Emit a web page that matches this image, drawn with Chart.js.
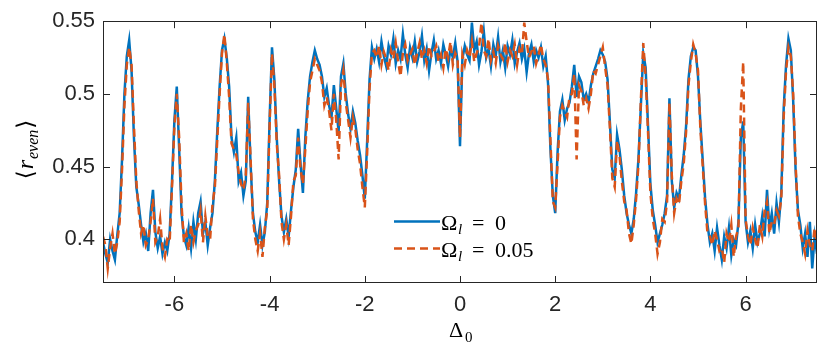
<!DOCTYPE html>
<html>
<head>
<meta charset="utf-8">
<script src="https://cdn.jsdelivr.net/npm/chart.js@4/dist/chart.umd.min.js"></script>
<style>
html,body{margin:0;padding:0;background:#fff;}
canvas{display:block;}
</style>
</head>
<body>
<canvas id="c" width="830" height="350"></canvas>
<script>
// Delta_0 grid: -7.5 .. 7.5, step 0.05 (301 points)
const deltaStart = -7.5;
const deltaStep = 0.05;

// <r_even> for Omega_l = 0 (blue, solid), 10 values per row = 0.5 in Delta_0
const rEvenOmega0 = [
  0.398,0.390,0.384,0.400,0.392,0.386,0.403,0.418,0.455,0.500,
  0.526,0.537,0.516,0.470,0.436,0.424,0.410,0.398,0.404,0.392,
  0.418,0.434,0.405,0.394,0.402,0.390,0.398,0.392,0.404,0.440,
  0.482,0.505,0.462,0.418,0.402,0.396,0.408,0.394,0.412,0.400,
  0.418,0.426,0.404,0.412,0.396,0.408,0.418,0.440,0.474,0.505,
  0.530,0.538,0.525,0.505,0.470,0.460,0.470,0.440,0.446,0.430,
  0.440,0.498,0.452,0.418,0.405,0.398,0.410,0.396,0.405,0.425,
  0.482,0.532,0.510,0.470,0.440,0.416,0.405,0.414,0.402,0.420,
  0.436,0.448,0.476,0.452,0.432,0.470,0.495,0.512,0.522,0.530,
  0.524,0.520,0.512,0.498,0.504,0.492,0.484,0.506,0.490,0.474,
  0.512,0.521,0.500,0.486,0.476,0.488,0.480,0.468,0.458,0.444,
  0.428,0.468,0.510,0.532,0.524,0.531,0.522,0.536,0.526,0.519,
  0.533,0.527,0.538,0.521,0.530,0.524,0.541,0.527,0.518,0.532,
  0.525,0.536,0.522,0.529,0.540,0.523,0.531,0.516,0.528,0.537,
  0.524,0.530,0.521,0.534,0.527,0.519,0.531,0.525,0.535,0.522,
  0.464,0.524,0.533,0.527,0.523,0.549,0.530,0.536,0.520,0.529,
  0.543,0.525,0.531,0.519,0.534,0.526,0.539,0.522,0.530,0.518,
  0.533,0.527,0.537,0.521,0.529,0.535,0.524,0.531,0.515,0.528,
  0.534,0.522,0.530,0.525,0.532,0.519,0.526,0.507,0.462,0.430,
  0.418,0.460,0.488,0.496,0.482,0.490,0.494,0.505,0.520,0.498,
  0.512,0.508,0.496,0.500,0.494,0.506,0.514,0.519,0.524,0.530,
  0.527,0.522,0.510,0.480,0.448,0.442,0.472,0.462,0.448,0.430,
  0.418,0.410,0.404,0.414,0.432,0.456,0.492,0.528,0.518,0.478,
  0.438,0.420,0.410,0.398,0.404,0.410,0.418,0.430,0.497,0.440,
  0.422,0.432,0.428,0.444,0.458,0.478,0.510,0.526,0.532,0.530,
  0.512,0.480,0.454,0.428,0.410,0.398,0.404,0.392,0.408,0.396,
  0.386,0.402,0.394,0.408,0.389,0.400,0.396,0.412,0.470,0.481,
  0.412,0.398,0.406,0.394,0.410,0.398,0.404,0.416,0.402,0.434,
  0.408,0.418,0.404,0.425,0.412,0.432,0.490,0.520,0.538,0.530,
  0.495,0.448,0.420,0.410,0.394,0.404,0.388,0.412,0.380,0.402,
  0.390
];

// <r_even> for Omega_l = 0.05 (orange, dashed)
const rEvenOmega005 = [
  0.402,0.396,0.380,0.394,0.404,0.390,0.398,0.412,0.448,0.492,
  0.520,0.532,0.520,0.478,0.440,0.420,0.404,0.410,0.396,0.400,
  0.412,0.428,0.398,0.402,0.414,0.394,0.388,0.400,0.398,0.436,
  0.478,0.500,0.470,0.424,0.398,0.404,0.392,0.410,0.398,0.406,
  0.410,0.420,0.398,0.416,0.402,0.400,0.424,0.436,0.468,0.500,
  0.528,0.541,0.522,0.498,0.466,0.462,0.458,0.446,0.438,0.434,
  0.444,0.494,0.456,0.414,0.400,0.392,0.404,0.388,0.408,0.420,
  0.478,0.528,0.506,0.466,0.444,0.412,0.400,0.410,0.396,0.416,
  0.440,0.444,0.470,0.448,0.438,0.462,0.488,0.508,0.516,0.524,
  0.520,0.516,0.508,0.492,0.498,0.488,0.475,0.500,0.482,0.455,
  0.506,0.516,0.494,0.482,0.470,0.484,0.476,0.462,0.452,0.436,
  0.422,0.460,0.504,0.528,0.530,0.525,0.533,0.520,0.529,0.524,
  0.516,0.530,0.524,0.535,0.522,0.512,0.528,0.534,0.523,0.527,
  0.531,0.520,0.528,0.535,0.524,0.530,0.521,0.533,0.526,0.529,
  0.533,0.522,0.527,0.518,0.531,0.525,0.536,0.520,0.528,0.524,
  0.470,0.527,0.520,0.530,0.525,0.536,0.522,0.528,0.532,0.549,
  0.530,0.526,0.538,0.523,0.529,0.521,0.533,0.527,0.524,0.535,
  0.522,0.530,0.526,0.534,0.520,0.531,0.527,0.549,0.536,0.525,
  0.529,0.533,0.521,0.527,0.534,0.524,0.520,0.510,0.468,0.426,
  0.422,0.452,0.484,0.492,0.488,0.484,0.498,0.500,0.514,0.455,
  0.506,0.502,0.492,0.497,0.490,0.500,0.516,0.514,0.520,0.526,
  0.532,0.518,0.506,0.476,0.442,0.436,0.468,0.458,0.440,0.426,
  0.420,0.404,0.397,0.410,0.428,0.452,0.496,0.535,0.512,0.474,
  0.432,0.414,0.404,0.390,0.398,0.414,0.412,0.426,0.494,0.444,
  0.418,0.428,0.424,0.440,0.452,0.474,0.506,0.522,0.534,0.528,
  0.516,0.476,0.450,0.424,0.404,0.402,0.396,0.406,0.400,0.392,
  0.394,0.384,0.404,0.398,0.410,0.388,0.402,0.408,0.490,0.522,
  0.414,0.402,0.396,0.408,0.400,0.394,0.410,0.402,0.420,0.426,
  0.404,0.412,0.410,0.420,0.416,0.428,0.484,0.516,0.532,0.526,
  0.500,0.452,0.416,0.404,0.398,0.390,0.406,0.396,0.392,0.408,
  0.398
];

const xTickValues = [-6, -4, -2, 0, 2, 4, 6];
const yTickValues = [0.4, 0.45, 0.5, 0.55];
const yTickLabels = ["0.4", "0.45", "0.5", "0.55"];
const seriesLabels = ["0", "0.05"];

const toPoints = arr => arr.map((v, i) => ({ x: +(deltaStart + i * deltaStep).toFixed(2), y: v }));

const BLUE = '#0072BD';
const ORANGE = '#D95319';
const AXIS = '#262626';

const decor = {
  id: 'decor',
  afterDraw(chart) {
    const ctx = chart.ctx;
    const a = chart.chartArea;
    const xs = chart.scales.x, ys = chart.scales.y;
    ctx.save();
    ctx.strokeStyle = AXIS;
    ctx.lineWidth = 1;
    // box
    ctx.strokeRect(Math.round(a.left) + 0.5, Math.round(a.top) + 0.5,
                   Math.round(a.right - a.left) - 1, Math.round(a.bottom - a.top) - 1);
    // inward ticks
    const tl = 7;
    ctx.beginPath();
    xTickValues.forEach(v => {
      const px = Math.round(xs.getPixelForValue(v)) + 0.5;
      ctx.moveTo(px, a.bottom); ctx.lineTo(px, a.bottom - tl);
      ctx.moveTo(px, a.top); ctx.lineTo(px, a.top + tl);
    });
    yTickValues.forEach(v => {
      const py = Math.round(ys.getPixelForValue(v)) + 0.5;
      ctx.moveTo(a.left, py); ctx.lineTo(a.left + tl, py);
      ctx.moveTo(a.right, py); ctx.lineTo(a.right - tl, py);
    });
    ctx.stroke();

    // legend
    const serif = "'Liberation Serif','DejaVu Serif',serif";
    const rows = [
      { y: 221.5, color: BLUE, dash: [], text: seriesLabels[0] },
      { y: 248.5, color: ORANGE, dash: [8, 5], text: seriesLabels[1] }
    ];
    rows.forEach(r => {
      ctx.strokeStyle = r.color;
      ctx.lineWidth = 2.5;
      ctx.setLineDash(r.dash);
      ctx.beginPath();
      ctx.moveTo(394, r.y); ctx.lineTo(440, r.y);
      ctx.stroke();
      ctx.setLineDash([]);
      const base = r.y + 8;
      ctx.fillStyle = '#000';
      ctx.textBaseline = 'alphabetic';
      ctx.textAlign = 'left';
      ctx.font = "22px " + serif;
      ctx.fillText('Ω', 441, base);
      ctx.font = "italic 15px " + serif;
      ctx.fillText('l', 458, base + 4);
      ctx.font = "22px " + serif;
      ctx.fillText('=', 472, base);
      ctx.fillText(r.text, 495, base);
    });

    // x title: Delta_0
    ctx.fillStyle = '#000';
    ctx.font = "22px " + serif;
    ctx.textAlign = 'left';
    ctx.fillText('Δ', 449, 337);
    ctx.font = "15px " + serif;
    ctx.fillText('0', 465, 342);

    // y title: <r_even>
    ctx.save();
    ctx.translate(33, 149);
    ctx.rotate(-Math.PI / 2);
    const parts = [
      { t: '⟨', f: "23px " + serif, dy: 0 },
      { t: 'r', f: "italic 24px " + serif, dy: 0 },
      { t: 'even', f: "italic 16px " + serif, dy: 5 },
      { t: '⟩', f: "23px " + serif, dy: 0 }
    ];
    let w = 0;
    parts.forEach(p => { ctx.font = p.f; p.w = ctx.measureText(p.t).width; w += p.w + 1; });
    let cx = -w / 2;
    parts.forEach(p => { ctx.font = p.f; ctx.fillText(p.t, cx, p.dy); cx += p.w + 1; });
    ctx.restore();
    ctx.restore();
  }
};

new Chart(document.getElementById('c'), {
  type: 'line',
  data: {
    datasets: [
      {
        label: 'Ω_l = 0',
        data: toPoints(rEvenOmega0),
        borderColor: BLUE,
        borderWidth: 2.5,
        pointRadius: 0,
        tension: 0,
        order: 2
      },
      {
        label: 'Ω_l = 0.05',
        data: toPoints(rEvenOmega005),
        borderColor: ORANGE,
        borderWidth: 2.5,
        borderDash: [8, 5],
        pointRadius: 0,
        tension: 0,
        order: 1
      }
    ]
  },
  options: {
    responsive: false,
    animation: false,
    layout: { padding: { left: 0, right: 13, top: 19, bottom: 0 } },
    plugins: { legend: { display: false }, tooltip: { enabled: false } },
    scales: {
      x: {
        type: 'linear',
        min: -7.5, max: 7.5,
        grid: { display: false, drawTicks: false },
        border: { display: false },
        afterBuildTicks: s => { s.ticks = xTickValues.map(v => ({ value: v })); },
        afterFit: s => { s.height = 67; },
        ticks: {
          padding: 9,
          color: AXIS,
          font: { family: "'Liberation Sans', Arial, sans-serif", size: 22 },
          maxRotation: 0,
          callback: v => String(v)
        }
      },
      y: {
        min: 0.37, max: 0.55,
        grid: { display: false, drawTicks: false },
        border: { display: false },
        afterBuildTicks: s => { s.ticks = yTickValues.map(v => ({ value: v })); },
        afterFit: s => { s.width = 103; },
        ticks: {
          padding: 8,
          color: AXIS,
          font: { family: "'Liberation Sans', Arial, sans-serif", size: 22 },
          callback: v => yTickLabels[yTickValues.indexOf(v)] ?? ''
        }
      }
    }
  },
  plugins: [decor]
});
</script>
</body>
</html>
